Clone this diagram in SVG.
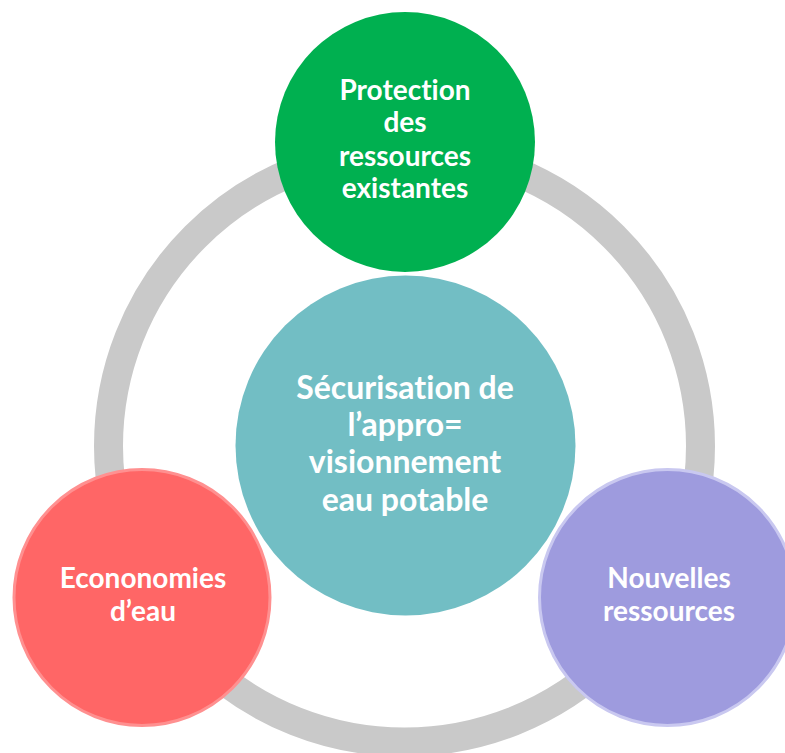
<svg xmlns="http://www.w3.org/2000/svg" width="785" height="753" viewBox="0 0 785 753">
  <style>
    .lbl { font-family: Lato, "Open Sans", "Liberation Sans", sans-serif; font-weight: bold; fill: #FFFFFF; text-anchor: middle; font-variant-ligatures: none; }
    .sm { font-size: 28px; }
    .lg { font-size: 32px; }
  </style>
  <rect width="785" height="753" fill="#FFFFFF"/>

  <!-- connecting ring -->
  <g id="connectors">
    <circle cx="404.5" cy="446" r="296" fill="none" stroke="#C9C9C9" stroke-width="29"/>
  </g>

  <!-- centre -->
  <g id="node-center">
    <circle cx="405.5" cy="445.5" r="170" fill="#72BEC4"/>
    <text class="lbl lg" x="405" y="399">Sécurisation de</text>
    <text class="lbl lg" x="405" y="436">l’appro=</text>
    <text class="lbl lg" x="405" y="473">visionnement</text>
    <text class="lbl lg" x="405" y="511">eau potable</text>
  </g>

  <!-- top -->
  <g id="node-protection">
    <circle cx="405" cy="142" r="130" fill="#00B050"/>
    <text class="lbl sm" x="405" y="100">Protection</text>
    <text class="lbl sm" x="405" y="132">des</text>
    <text class="lbl sm" x="405" y="165.5">ressources</text>
    <text class="lbl sm" x="405" y="198">existantes</text>
  </g>

  <!-- bottom left -->
  <g id="node-economies">
    <circle cx="142" cy="597.5" r="128" fill="#FF6666" stroke="#FF9090" stroke-width="3"/>
    <text class="lbl sm" x="143" y="588">Econonomies</text>
    <text class="lbl sm" x="143" y="621">d’eau</text>
  </g>

  <!-- bottom right -->
  <g id="node-nouvelles">
    <circle cx="667.5" cy="597.5" r="128" fill="#9E9BDE" stroke="#C9C8F0" stroke-width="3"/>
    <text class="lbl sm" x="669" y="588">Nouvelles</text>
    <text class="lbl sm" x="669" y="621">ressources</text>
  </g>
</svg>
